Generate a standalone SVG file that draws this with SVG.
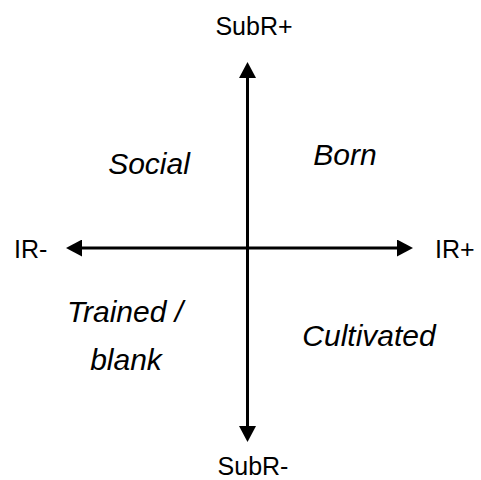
<svg xmlns="http://www.w3.org/2000/svg" width="481" height="480" viewBox="0 0 481 480">
<defs>
<marker id="ah" markerUnits="userSpaceOnUse" markerWidth="17" markerHeight="17" viewBox="0 0 16 17" refX="8" refY="8.5" orient="auto-start-reverse">
<path d="M0,0 L16,8.5 L0,17 z" fill="#000"/>
</marker>
<style>
.ax{stroke:#000;stroke-width:3;fill:none}
.lb{font-family:"Liberation Sans",Arial,sans-serif;font-size:25px;fill:#000}
.it{font-family:"Liberation Sans",Arial,sans-serif;font-size:30px;font-style:italic;fill:#000;text-anchor:middle}
</style>
</defs>
<rect width="481" height="480" fill="#fff"/>
<g id="connectors">
<line class="ax" x1="247.5" y1="70" x2="247.5" y2="434" marker-start="url(#ah)" marker-end="url(#ah)"/>
<line class="ax" x1="74" y1="248" x2="405" y2="248" marker-start="url(#ah)" marker-end="url(#ah)"/>
</g>
<g id="subr-plus"><text class="lb" x="254" y="35" text-anchor="middle">SubR+</text></g>
<g id="subr-minus"><text class="lb" x="253" y="475" text-anchor="middle">SubR-</text></g>
<g id="ir-minus"><text class="lb" x="14" y="258">IR-</text></g>
<g id="ir-plus"><text class="lb" x="435" y="258">IR+</text></g>
<g id="social"><text class="it" x="149" y="174">Social</text></g>
<g id="born"><text class="it" x="345" y="165">Born</text></g>
<g id="trained"><text class="it" x="125" y="322">Trained /</text><text class="it" x="126" y="370">blank</text></g>
<g id="cultivated"><text class="it" x="369" y="346">Cultivated</text></g>
</svg>
